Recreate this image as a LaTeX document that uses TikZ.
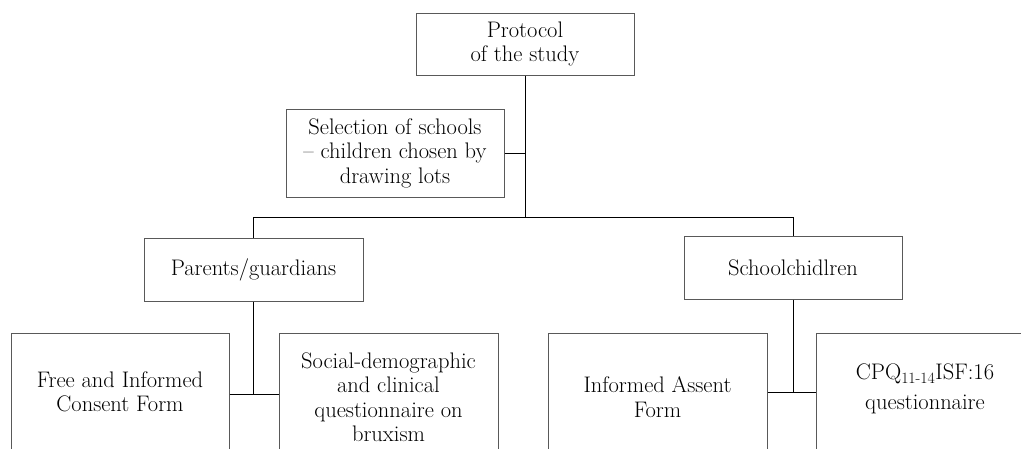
\documentclass[tikz,border=0pt]{standalone}
\begin{document}
\begin{tikzpicture}[x=1pt,y=-1pt,
  box/.style={draw=black!65, line width=1pt, align=center, inner sep=0pt,
    font=\fontsize{22.5}{24.5}\selectfont},
  conn/.style={draw=black, line width=0.9pt}]
\useasboundingbox (0,0) rectangle (1021,448);
\clip (0,0) rectangle (1021,448);
\node[box, minimum width=218pt, minimum height=62pt] (proto) at (525,44) {Protocol\\of the study};
\node[box, minimum width=218pt, minimum height=88pt] (sel) at (395,153) {Selection of schools\\-- children chosen by\\drawing lots};
\node[box, minimum width=219pt, minimum height=63pt] (par) at (253.5,269.5) {Parents/guardians};
\node[box, minimum width=218pt, minimum height=63pt] (sch) at (793,267.5) {Schoolchidlren};
\node[box, minimum width=218pt, minimum height=128pt] (free) at (120,397) {Free and Informed\\Consent Form\\[-14pt]};
\node[box, minimum width=219pt, minimum height=128pt] (soc) at (388.5,397) {Social-demographic\\and clinical\\questionnaire on\\bruxism};
\node[box, minimum width=219pt, minimum height=128pt] (ass) at (657.5,397) {Informed Assent\\Form};
\node[box, minimum width=218pt, minimum height=128pt] (cpq) at (925,397) {CPQ\textsubscript{11-14}ISF:16\\[5.5pt]questionnaire\\[-4.5pt]};
\coordinate (pj) at (525,217);
\coordinate (fj) at (253.5,394);
\coordinate (sj) at (793,392);
\draw[conn] (proto.south) -- (pj);
\draw[conn] (sel.east) -- (sel.east -| pj);
\draw[conn] (par.north |- pj) -- (sch.north |- pj);
\draw[conn] (par.north |- pj) -- (par.north);
\draw[conn] (sch.north |- pj) -- (sch.north);
\draw[conn] (par.south) -- (fj);
\draw[conn] (free.east |- fj) -- (soc.west |- fj);
\draw[conn] (sch.south) -- (sj);
\draw[conn] (ass.east |- sj) -- (cpq.west |- sj);
\end{tikzpicture}
\end{document}
